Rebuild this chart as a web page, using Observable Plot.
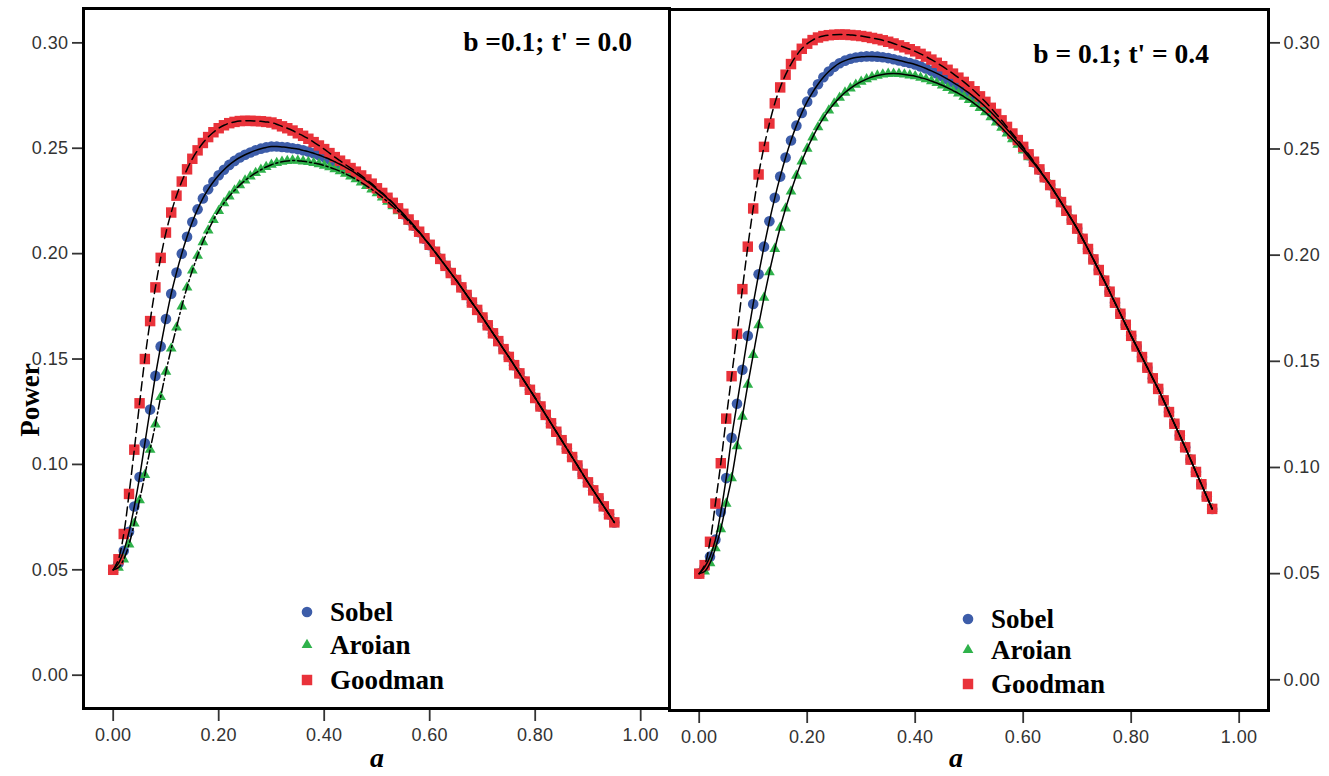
<!DOCTYPE html>
<html><head><meta charset="utf-8">
<script src="https://cdn.jsdelivr.net/npm/d3@7"></script>
<script src="https://cdn.jsdelivr.net/npm/@observablehq/plot@0.6"></script>
<style>
body{margin:0;background:#fff;}
#wrap{position:relative;width:1329px;height:776px;overflow:hidden;background:#fff;}
#wrap svg.panel{position:absolute;top:0;overflow:visible;}
svg.panel text{font-family:"Liberation Sans Narrow","Arial Narrow","Liberation Sans",Arial,sans-serif;font-size:18px;letter-spacing:0.4px;fill:#333;}
#overlay{position:absolute;left:0;top:0;}
#overlay text{font-family:"Liberation Serif","Times New Roman",serif;font-weight:bold;fill:#000;}
</style></head>
<body><div id="wrap"></div>
<script>
// ---- data ----
const aValues = [0.00,0.01,0.02,0.03,0.04,0.05,0.06,0.07,0.08,0.09,
0.10,0.11,0.12,0.13,0.14,0.15,0.16,0.17,0.18,0.19,
0.20,0.21,0.22,0.23,0.24,0.25,0.26,0.27,0.28,0.29,
0.30,0.31,0.32,0.33,0.34,0.35,0.36,0.37,0.38,0.39,
0.40,0.41,0.42,0.43,0.44,0.45,0.46,0.47,0.48,0.49,
0.50,0.51,0.52,0.53,0.54,0.55,0.56,0.57,0.58,0.59,
0.60,0.61,0.62,0.63,0.64,0.65,0.66,0.67,0.68,0.69,
0.70,0.71,0.72,0.73,0.74,0.75,0.76,0.77,0.78,0.79,
0.80,0.81,0.82,0.83,0.84,0.85,0.86,0.87,0.88,0.89,
0.90,0.91,0.92,0.93,0.94,0.95];

const xTicks = [0, 0.2, 0.4, 0.6, 0.8, 1.0];
const yTicks = [0, 0.05, 0.10, 0.15, 0.20, 0.25, 0.30];
const methods = ["Sobel", "Aroian", "Goodman"];
const panelLabels = ["b =0.1; t' = 0.0", "b = 0.1; t' = 0.4"];
const xLabel = "a";
const yLabel = "Power";

// Left panel: b = 0.1, t' = 0.0
const leftSobel = [0.050,0.053,0.059,0.068,0.080,0.094,0.110,0.126,0.142,0.156,
0.169,0.181,0.191,0.200,0.208,0.215,0.221,0.2262,0.2305,0.2341,
0.2372,0.2398,0.2421,0.2440,0.2456,0.2469,0.2480,0.2490,0.2498,0.2504,
0.2508,0.2508,0.2506,0.2504,0.2500,0.2496,0.2490,0.2484,0.2476,0.2468,
0.2458,0.2448,0.2436,0.2424,0.2410,0.2396,0.2380,0.2363,0.2345,0.2326,
0.2305,0.2284,0.2262,0.2239,0.2213,0.2187,0.2160,0.2132,0.2102,0.2071,
0.2040,0.2008,0.1975,0.1942,0.1908,0.1875,0.1840,0.1804,0.1768,0.1733,
0.1697,0.1660,0.1622,0.1585,0.1547,0.1510,0.1471,0.1432,0.1393,0.1354,
0.1315,0.1275,0.1235,0.1195,0.1155,0.1115,0.1075,0.1035,0.0995,0.0955,
0.0915,0.0877,0.0839,0.0801,0.0763,0.0725];
const leftAroian = [0.050,0.051,0.055,0.062,0.072,0.083,0.095,0.107,0.119,0.132,
0.144,0.155,0.165,0.175,0.184,0.192,0.199,0.2055,0.2110,0.2160,
0.2203,0.2240,0.2272,0.2300,0.2325,0.2347,0.2366,0.2383,0.2398,0.2411,
0.2422,0.2430,0.2436,0.2440,0.2442,0.2441,0.2438,0.2435,0.2430,0.2425,
0.2418,0.2410,0.2401,0.2391,0.2379,0.2367,0.2353,0.2338,0.2322,0.2305,
0.2287,0.2267,0.2247,0.2225,0.2202,0.2179,0.2153,0.2127,0.2100,0.2071,
0.2040,0.2008,0.1975,0.1942,0.1908,0.1875,0.1840,0.1804,0.1768,0.1733,
0.1697,0.1660,0.1622,0.1585,0.1547,0.1510,0.1471,0.1432,0.1393,0.1354,
0.1315,0.1275,0.1235,0.1195,0.1155,0.1115,0.1075,0.1035,0.0995,0.0955,
0.0915,0.0877,0.0839,0.0801,0.0763,0.0725];
const leftGoodman = [0.050,0.055,0.067,0.086,0.107,0.129,0.150,0.168,0.184,0.198,
0.210,0.2195,0.2275,0.2342,0.2400,0.2450,0.2490,0.2525,0.2553,0.2576,
0.2595,0.2609,0.2619,0.2625,0.2629,0.2630,0.2630,0.2629,0.2628,0.2625,
0.2622,0.2614,0.2604,0.2595,0.2584,0.2571,0.2559,0.2545,0.2529,0.2513,
0.2496,0.2477,0.2458,0.2441,0.2423,0.2406,0.2389,0.2371,0.2352,0.2332,
0.2310,0.2288,0.2265,0.2241,0.2215,0.2189,0.2162,0.2134,0.2104,0.2073,
0.2042,0.2009,0.1975,0.1942,0.1908,0.1875,0.1840,0.1804,0.1768,0.1733,
0.1697,0.1660,0.1622,0.1585,0.1547,0.1510,0.1471,0.1432,0.1393,0.1354,
0.1315,0.1275,0.1235,0.1195,0.1155,0.1115,0.1075,0.1035,0.0995,0.0955,
0.0915,0.0877,0.0839,0.0801,0.0763,0.0725];

// Right panel: b = 0.1, t' = 0.4
const rightSobel = [0.050,0.053,0.058,0.066,0.079,0.095,0.114,0.130,0.146,0.162,
0.177,0.191,0.204,0.216,0.227,0.237,0.246,0.254,0.261,0.267,
0.2723,0.2767,0.2805,0.2838,0.2865,0.2887,0.2904,0.2916,0.2925,0.2931,
0.2934,0.2936,0.2936,0.2935,0.2932,0.2928,0.2923,0.2917,0.2911,0.2905,
0.2898,0.2889,0.2879,0.2868,0.2856,0.2843,0.2829,0.2814,0.2798,0.2781,
0.2763,0.2743,0.2722,0.2699,0.2674,0.2648,0.2621,0.2593,0.2564,0.2535,
0.2505,0.2471,0.2437,0.2402,0.2366,0.2330,0.2290,0.2250,0.2209,0.2167,
0.2125,0.2077,0.2029,0.1980,0.1930,0.1880,0.1828,0.1776,0.1724,0.1672,
0.1620,0.1570,0.1520,0.1470,0.1420,0.1370,0.1316,0.1261,0.1206,0.1151,
0.1095,0.1037,0.0979,0.0921,0.0863,0.0805];
const rightAroian = [0.050,0.051,0.055,0.062,0.071,0.083,0.095,0.110,0.124,0.139,
0.153,0.167,0.180,0.192,0.203,0.213,0.222,0.230,0.2375,0.2442,
0.2502,0.2555,0.2603,0.2645,0.2682,0.2714,0.2742,0.2766,0.2786,0.2803,
0.2817,0.2829,0.2839,0.2846,0.2851,0.2854,0.2855,0.2854,0.2851,0.2847,
0.2843,0.2836,0.2829,0.2820,0.2811,0.2800,0.2788,0.2775,0.2762,0.2747,
0.2731,0.2713,0.2694,0.2673,0.2650,0.2625,0.2600,0.2573,0.2547,0.2520,
0.2493,0.2462,0.2431,0.2399,0.2365,0.2330,0.2290,0.2250,0.2209,0.2167,
0.2125,0.2077,0.2029,0.1980,0.1930,0.1880,0.1828,0.1776,0.1724,0.1672,
0.1620,0.1570,0.1520,0.1470,0.1420,0.1370,0.1316,0.1261,0.1206,0.1151,
0.1095,0.1037,0.0979,0.0921,0.0863,0.0805];
const rightGoodman = [0.050,0.054,0.065,0.083,0.102,0.123,0.143,0.163,0.184,0.204,
0.222,0.238,0.251,0.262,0.2715,0.2790,0.2850,0.2900,0.2940,0.2972,
0.2996,0.3013,0.3025,0.3032,0.3036,0.3038,0.3039,0.3039,0.3037,0.3035,
0.3032,0.3028,0.3023,0.3018,0.3012,0.3005,0.2997,0.2988,0.2979,0.2970,
0.2960,0.2948,0.2935,0.2921,0.2906,0.2890,0.2873,0.2855,0.2836,0.2816,
0.2795,0.2772,0.2748,0.2722,0.2694,0.2665,0.2635,0.2604,0.2573,0.2542,
0.2510,0.2475,0.2440,0.2404,0.2367,0.2330,0.2290,0.2250,0.2209,0.2167,
0.2125,0.2077,0.2029,0.1980,0.1930,0.1880,0.1828,0.1776,0.1724,0.1672,
0.1620,0.1570,0.1520,0.1470,0.1420,0.1370,0.1316,0.1261,0.1206,0.1151,
0.1095,0.1037,0.0979,0.0921,0.0863,0.0805];

// ---- styling ----
const colors = {Sobel: "#3d5da9", Aroian: "#2fb24b", Goodman: "#e9323a"};
const symbols = {Sobel: "circle", Aroian: "triangle", Goodman: "square"};
const radii = {Sobel: 5.3, Aroian: 4.0, Goodman: 5.9};

function rowsOf(vals, method) {
  return aValues.map((a, i) => ({a, power: vals[i], method}));
}

function makePanel(o) {
  const S = rowsOf(o.sobel, "Sobel"), A = rowsOf(o.aroian, "Aroian"), G = rowsOf(o.goodman, "Goodman");
  const dotOf = (d, m) => Plot.dot(d, {x: "a", y: "power", symbol: symbols[m], r: radii[m], fill: colors[m], stroke: "none"});
  const svg = Plot.plot({
    width: o.width, height: 776,
    marginLeft: o.mL, marginRight: o.mR, marginTop: o.mT, marginBottom: o.mB,
    x: {domain: o.xDom},
    y: {domain: o.yDom},
    className: "panel",
    style: {background: "transparent", overflow: "visible"},
    marks: [
      Plot.axisX({ticks: xTicks, tickFormat: d3.format(".2f"), tickSize: 13, tickPadding: 7, strokeWidth: 1.8, stroke: "#333", label: null}),
      Plot.axisY({anchor: o.yAnchor, ticks: yTicks, tickFormat: d3.format(".2f"), tickSize: 11, tickPadding: 4, strokeWidth: 1.8, stroke: "#333", label: null}),
      dotOf(S, "Sobel"),
      dotOf(A, "Aroian"),
      dotOf(G, "Goodman"),
      Plot.line(S, {x: "a", y: "power", stroke: "#000", strokeWidth: 1.5, curve: "catmull-rom"}),
      Plot.line(A, {x: "a", y: "power", stroke: "#000", strokeWidth: 1.5, curve: "catmull-rom", strokeDasharray: o.aroDash}),
      Plot.line(G, {x: "a", y: "power", stroke: "#000", strokeWidth: 1.5, curve: "catmull-rom", strokeDasharray: "9,5"}),
      Plot.frame({stroke: "#000", strokeWidth: 3})
    ]
  });
  svg.style.left = o.left + "px";
  return svg;
}

const wrap = document.getElementById("wrap");
wrap.appendChild(makePanel({
  sobel: leftSobel, aroian: leftAroian, goodman: leftGoodman,
  width: 671, mL: 83, mR: 2, mT: 8, mB: 68,
  xDom: [-0.0563, 1.0546], yDom: [-0.0158, 0.3163],
  yAnchor: "left", aroDash: "9,3,2,3", left: 0
}));
wrap.appendChild(makePanel({
  sobel: rightSobel, aroian: rightAroian, goodman: rightGoodman,
  width: 662, mL: 2, mR: 61, mT: 9, mB: 66,
  xDom: [-0.055, 1.0543], yDom: [-0.01446, 0.3157],
  yAnchor: "right", aroDash: null, left: 667
}));

// ---- overlay texts and legends ----
const ov = d3.select(wrap).append("svg").attr("id", "overlay").attr("width", 1329).attr("height", 776);
ov.append("text").attr("x", 632).attr("y", 51).attr("text-anchor", "end").style("font-size", "27.5px").text(panelLabels[0]);
ov.append("text").attr("x", 1209).attr("y", 63).attr("text-anchor", "end").style("font-size", "27.5px").text(panelLabels[1]);
ov.append("text").attr("transform", "translate(39,400) rotate(-90)").attr("text-anchor", "middle").style("font-size", "27px").text(yLabel);
ov.append("text").attr("x", 377).attr("y", 767).attr("text-anchor", "middle").style("font-size", "28px").style("font-style", "italic").text(xLabel);
ov.append("text").attr("x", 956).attr("y", 767).attr("text-anchor", "middle").style("font-size", "28px").style("font-style", "italic").text(xLabel);

const symFn = {circle: d3.symbolCircle, triangle: d3.symbolTriangle, square: d3.symbolSquare};
function legend(x0, ys) {
  methods.forEach((m, i) => {
    const r = radii[m];
    ov.append("path").attr("transform", `translate(${x0},${ys[i]})`)
      .attr("d", d3.symbol(symFn[symbols[m]], r * r * Math.PI)()).attr("fill", colors[m]);
    ov.append("text").attr("x", x0 + 23).attr("y", ys[i] + 9).style("font-size", "27px").text(m);
  });
}
legend(307, [612, 645, 680]);
legend(968, [619, 650, 684]);
</script>
</body></html>
